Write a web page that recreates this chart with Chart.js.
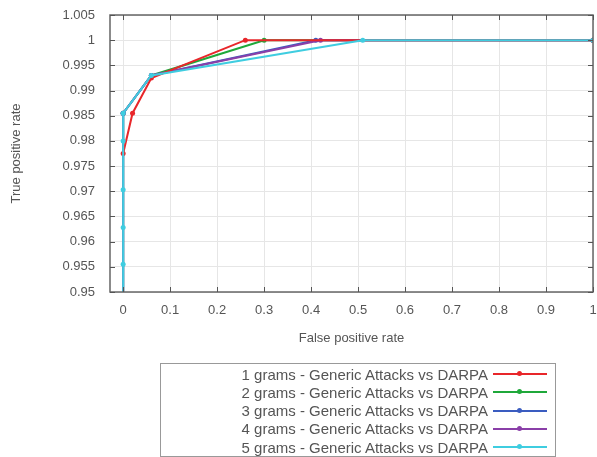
<!DOCTYPE html>
<html>
<head>
<meta charset="utf-8">
<script src="https://cdn.jsdelivr.net/npm/chart.js@4.4.1/dist/chart.umd.min.js"></script>
<style>
  html, body { margin: 0; padding: 0; background: #fff; }
  #wrap { position: relative; width: 597px; height: 457px; }
  canvas { position: absolute; left: 0; top: 0; }
  #legend { position: absolute; left: 160px; top: 363px; width: 396px; height: 94px;
    border: 1.5px solid #999; box-sizing: border-box; font-family: "Liberation Sans", Arial, sans-serif;
    font-size: 15px; color: #555; }
  .row { position: absolute; right: 8px; height: 18px; display: flex; align-items: center; }
  .row span.t { white-space: nowrap; margin-right: 5px; }
  .sample { position: relative; width: 54px; height: 2px; }
  .sample i { position: absolute; left: 24px; top: -2px; width: 5px; height: 5px; border-radius: 3px; }
</style>
</head>
<body>
<div id="wrap">
  <canvas id="c" width="597" height="457"></canvas>
  <div id="legend"></div>
</div>
<script>
// ---- data ----
const seriesNames = [
  "1 grams - Generic Attacks vs DARPA",
  "2 grams - Generic Attacks vs DARPA",
  "3 grams - Generic Attacks vs DARPA",
  "4 grams - Generic Attacks vs DARPA",
  "5 grams - Generic Attacks vs DARPA"
];
const fpr1 = [0, 0.02, 0.06, 0.26, 1];
const tpr1 = [0.9775, 0.9855, 0.9925, 1, 1];
const fpr2 = [0, 0, 0.06, 0.30, 1];
const tpr2 = [0.95, 0.9855, 0.993, 1, 1];
const fpr3 = [0, 0, 0.06, 0.41, 1];
const tpr3 = [0.95, 0.9855, 0.993, 1, 1];
const fpr4 = [0, 0, 0.06, 0.42, 1];
const tpr4 = [0.95, 0.9855, 0.993, 1, 1];
const fpr5 = [0, 0, 0, 0, 0, 0, 0.06, 0.51, 1];
const tpr5 = [0.95, 0.9555, 0.9628, 0.9703, 0.98, 0.9855, 0.993, 1, 1];
const xTicks = [0, 0.1, 0.2, 0.3, 0.4, 0.5, 0.6, 0.7, 0.8, 0.9, 1];
const xTickLabels = ["0", "0.1", "0.2", "0.3", "0.4", "0.5", "0.6", "0.7", "0.8", "0.9", "1"];
const yTicks = [0.95, 0.955, 0.96, 0.965, 0.97, 0.975, 0.98, 0.985, 0.99, 0.995, 1, 1.005];
const yTickLabels = ["0.95", "0.955", "0.96", "0.965", "0.97", "0.975", "0.98", "0.985", "0.99", "0.995", "1", "1.005"];
const colors = ["#e8262a", "#1fa83a", "#3a5cc0", "#8a3fa8", "#3fcde0"];

const xs = [fpr1, fpr2, fpr3, fpr4, fpr5];
const ys = [tpr1, tpr2, tpr3, tpr4, tpr5];
const datasets = seriesNames.map((n, i) => ({
  label: n,
  data: xs[i].map((x, k) => ({ x: x, y: ys[i][k] })),
  borderColor: colors[i],
  backgroundColor: colors[i],
  borderWidth: 2,
  pointRadius: xs[i].map((x, k) => ys[i][k] <= 0.95 ? 0 : 2.5),
  pointStyle: 'circle',
  pointBorderWidth: 0,
  showLine: true,
  tension: 0,
  order: i === 0 ? 2 : (5 - i)
}));

const FONT = { family: "'Liberation Sans', Arial, sans-serif", size: 13 };

const framePlugin = {
  id: 'frame',
  afterDraw(chart) {
    const { ctx, chartArea: a, scales } = chart;
    ctx.save();
    ctx.strokeStyle = '#666';
    ctx.lineWidth = 1.5;
    ctx.strokeRect(a.left, a.top, a.right - a.left, a.bottom - a.top);
    ctx.lineWidth = 1;
    ctx.strokeStyle = '#555';
    xTicks.forEach(v => {
      const px = Math.round(scales.x.getPixelForValue(v)) + 0.5;
      ctx.beginPath(); ctx.moveTo(px, a.bottom); ctx.lineTo(px, a.bottom - 5); ctx.stroke();
      ctx.beginPath(); ctx.moveTo(px, a.top); ctx.lineTo(px, a.top + 5); ctx.stroke();
    });
    yTicks.forEach(v => {
      const py = Math.round(scales.y.getPixelForValue(v)) + 0.5;
      ctx.beginPath(); ctx.moveTo(a.left, py); ctx.lineTo(a.left + 5, py); ctx.stroke();
      ctx.beginPath(); ctx.moveTo(a.right, py); ctx.lineTo(a.right - 5, py); ctx.stroke();
    });
    ctx.restore();
  }
};

new Chart(document.getElementById('c'), {
  type: 'scatter',
  data: { datasets },
  options: {
    responsive: false,
    animation: false,
    layout: { padding: { top: 15, right: 1, left: 0, bottom: 107 } },
    plugins: { legend: { display: false }, tooltip: { enabled: false } },
    scales: {
      x: {
        type: 'linear', min: -0.028, max: 1,
        afterBuildTicks: s => { s.ticks = xTicks.map(v => ({ value: v })); },
        afterFit: s => { s.height = 58; s.paddingRight = 0; s.paddingLeft = 0; },
        ticks: {
          font: FONT, color: '#555', padding: 11, maxRotation: 0, autoSkip: false,
          callback: (v) => { const i = xTicks.findIndex(t => Math.abs(t - v) < 1e-9); return i >= 0 ? xTickLabels[i] : ''; }
        },
        grid: { color: '#e6e6e6', lineWidth: 1, drawTicks: false },
        border: { display: false },
        title: { display: true, text: 'False positive rate', font: FONT, color: '#555', padding: { top: 4, bottom: 4 } }
      },
      y: {
        type: 'linear', min: 0.95, max: 1.005,
        afterBuildTicks: s => { s.ticks = yTicks.map(v => ({ value: v })); },
        afterFit: s => { s.width = 110; s.paddingTop = 0; s.paddingBottom = 0; },
        ticks: {
          font: FONT, color: '#555', padding: 15, autoSkip: false,
          callback: (v) => { const i = yTicks.findIndex(t => Math.abs(t - v) < 1e-9); return i >= 0 ? yTickLabels[i] : ''; }
        },
        grid: { color: '#e6e6e6', lineWidth: 1, drawTicks: false },
        border: { display: false },
        title: { display: true, text: 'True positive rate', font: FONT, color: '#555', padding: { bottom: 0, top: 9 } }
      }
    }
  },
  plugins: [framePlugin]
});

const leg = document.getElementById('legend');
seriesNames.forEach((n, i) => {
  const r = document.createElement('div');
  r.className = 'row';
  r.style.top = (1 + i * 18.3) + 'px';
  const t = document.createElement('span'); t.className = 't'; t.textContent = n;
  const s = document.createElement('div'); s.className = 'sample'; s.style.background = colors[i];
  const d = document.createElement('i'); d.style.background = colors[i];
  s.appendChild(d);
  r.appendChild(t); r.appendChild(s);
  leg.appendChild(r);
});
</script>
</body>
</html>
